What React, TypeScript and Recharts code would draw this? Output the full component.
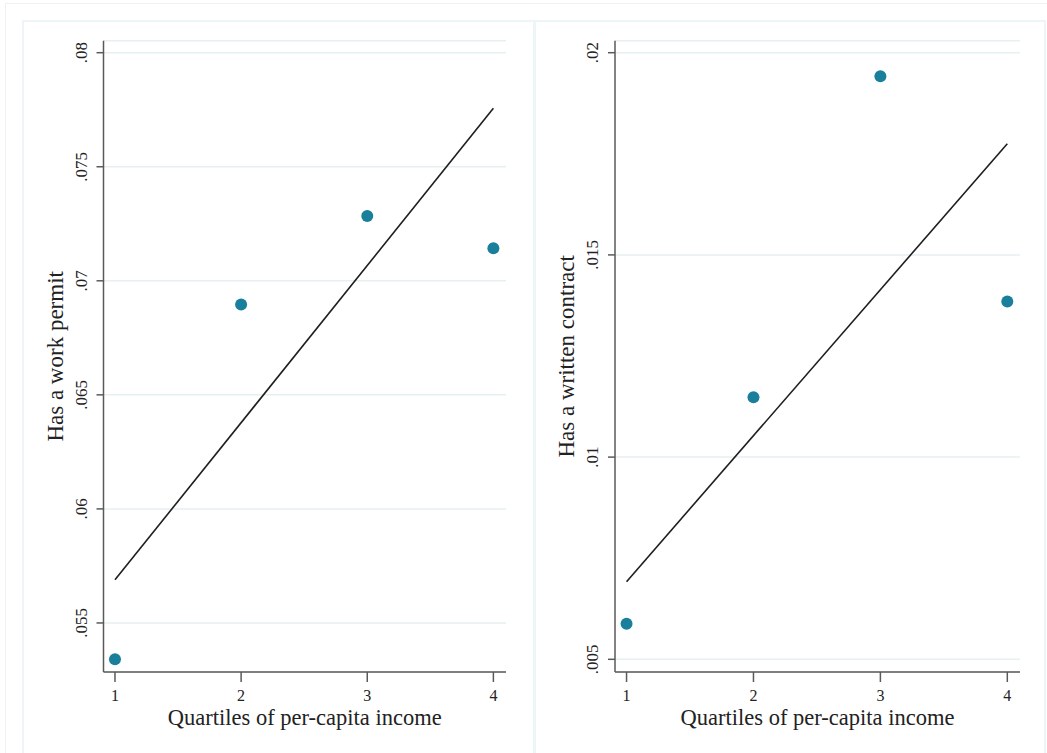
import React from 'react';
import { ScatterChart, Scatter, XAxis, YAxis, CartesianGrid, Label } from 'recharts';

const quartiles = [1, 2, 3, 4];
const xTicks = [1, 2, 3, 4];

const permitValues = [0.05341, 0.06896, 0.07284, 0.07143];
const permitFitStart = 0.05689;
const permitFitEnd = 0.07756;
const permitTicks = [0.055, 0.06, 0.065, 0.07, 0.075, 0.08];
const permitTickLabels = ['.055', '.06', '.065', '.07', '.075', '.08'];

const contractValues = [0.00588, 0.01148, 0.01942, 0.01385];
const contractFitStart = 0.00692;
const contractFitEnd = 0.01775;
const contractTicks = [0.005, 0.01, 0.015, 0.02];
const contractTickLabels = ['.005', '.01', '.015', '.02'];

const xTitle = 'Quartiles of per-capita income';
const permitTitle = 'Has a work permit';
const contractTitle = 'Has a written contract';

const FONT = '"Liberation Serif", "Times New Roman", serif';
const AXIS = '#5a5a5a';
const GRID = '#e6eff1';
const DOT = '#1a7f9b';
const TEXT = '#222';

type PanelProps = {
  left: number;
  width: number;
  yAxisWidth: number;
  rightMargin: number;
  values: number[];
  fitStart: number;
  fitEnd: number;
  yDomain: [number, number];
  yTicks: number[];
  yTickLabels: string[];
  yTitle: string;
};

const Panel = (p: PanelProps) => {
  const points = quartiles.map((q, i) => ({ x: q, y: p.values[i] }));
  const fit = [
    { x: quartiles[0], y: p.fitStart },
    { x: quartiles[quartiles.length - 1], y: p.fitEnd },
  ];
  const labelFor = (v: number) => {
    const idx = p.yTicks.findIndex((t) => Math.abs(t - v) < 1e-9);
    return idx >= 0 ? p.yTickLabels[idx] : String(v);
  };
  const YTick = (props: any) => {
    const { x, y, payload } = props;
    const bx = x - 7.5;
    return (
      <text
        x={bx}
        y={y}
        transform={`rotate(-90, ${bx}, ${y})`}
        textAnchor="middle"
        fontFamily={FONT}
        fontSize={17}
        fill={TEXT}
      >
        {labelFor(payload.value)}
      </text>
    );
  };
  const XTick = (props: any) => {
    const { x, y, payload } = props;
    return (
      <text x={x} y={y + 17} textAnchor="middle" fontFamily={FONT} fontSize={16} fill={TEXT}>
        {String(payload.value)}
      </text>
    );
  };
  const renderYTitle = (props: any) => {
    const vb = props.viewBox || {};
    const bx = (vb.x || 0) + p.yAxisWidth - 40.5;
    const cy = (vb.y || 0) + (vb.height || 0) / 2;
    return (
      <text
        x={bx}
        y={cy}
        transform={`rotate(-90, ${bx}, ${cy})`}
        textAnchor="middle"
        fontFamily={FONT}
        fontSize={23}
        fill={TEXT}
      >
        {p.yTitle}
      </text>
    );
  };
  const renderXTitle = (props: any) => {
    const vb = props.viewBox || {};
    const cx = (vb.x || 0) + (vb.width || 0) / 2;
    const by = (vb.y || 0) + 53;
    return (
      <text x={cx} y={by} textAnchor="middle" fontFamily={FONT} fontSize={22.5} fill={TEXT}>
        {xTitle}
      </text>
    );
  };
  return (
    <div style={{ position: 'absolute', left: p.left, top: 0 }}>
      <ScatterChart
        width={p.width}
        height={753}
        margin={{ top: 40.7, right: p.rightMargin, bottom: 21, left: 0 }}
      >
        <CartesianGrid horizontal vertical={false} stroke={GRID} strokeWidth={1.5} />
        <XAxis
          type="number"
          dataKey="x"
          domain={[0.909, 4.1]}
          ticks={xTicks}
          allowDataOverflow
          height={60}
          tickSize={10}
          tickMargin={2}
          stroke={AXIS}
          strokeWidth={1.5}
          tickLine={{ stroke: AXIS, strokeWidth: 1.5 }}
          tick={<XTick />}
        >
          <Label content={renderXTitle} />
        </XAxis>
        <YAxis
          type="number"
          dataKey="y"
          domain={p.yDomain}
          ticks={p.yTicks}
          allowDataOverflow
          width={p.yAxisWidth}
          tickSize={7}
          tickMargin={2}
          stroke={AXIS}
          strokeWidth={1.5}
          tickLine={{ stroke: AXIS, strokeWidth: 1.5 }}
          tick={<YTick />}
        >
          <Label content={renderYTitle} />
        </YAxis>
        <Scatter
          data={fit}
          isAnimationActive={false}
          line={{ stroke: '#1e1e1e', strokeWidth: 1.6 }}
          shape={() => <g />}
        />
        <Scatter
          data={points}
          isAnimationActive={false}
          fill={DOT}
          shape={(s: any) => <circle cx={s.cx} cy={s.cy} r={6} fill={DOT} />}
        />
      </ScatterChart>
    </div>
  );
};

export default function App() {
  return (
    <div
      style={{
        position: 'absolute',
        left: 0,
        top: 0,
        width: 1047,
        height: 753,
        background: '#fff',
        overflow: 'hidden',
      }}
    >
      <div
        style={{
          position: 'absolute',
          left: 5,
          top: 3,
          width: 1047,
          height: 760,
          borderTop: '1px solid #eef2f3',
          borderLeft: '1px solid #eef2f3',
        }}
      />
      <div
        style={{
          position: 'absolute',
          left: 22,
          top: 20,
          width: 510,
          height: 740,
          border: '2px solid #eef5f6',
        }}
      />
      <div
        style={{
          position: 'absolute',
          left: 533,
          top: 20,
          width: 509,
          height: 740,
          border: '2px solid #eef5f6',
        }}
      />
      <Panel
        left={0}
        width={533}
        yAxisWidth={103.5}
        rightMargin={27}
        values={permitValues}
        fitStart={permitFitStart}
        fitEnd={permitFitEnd}
        yDomain={[0.05285, 0.080526]}
        yTicks={permitTicks}
        yTickLabels={permitTickLabels}
        yTitle={permitTitle}
      />
      <Panel
        left={533}
        width={510}
        yAxisWidth={82}
        rightMargin={23}
        values={contractValues}
        fitStart={contractFitStart}
        fitEnd={contractFitEnd}
        yDomain={[0.004686, 0.020297]}
        yTicks={contractTicks}
        yTickLabels={contractTickLabels}
        yTitle={contractTitle}
      />
    </div>
  );
}
